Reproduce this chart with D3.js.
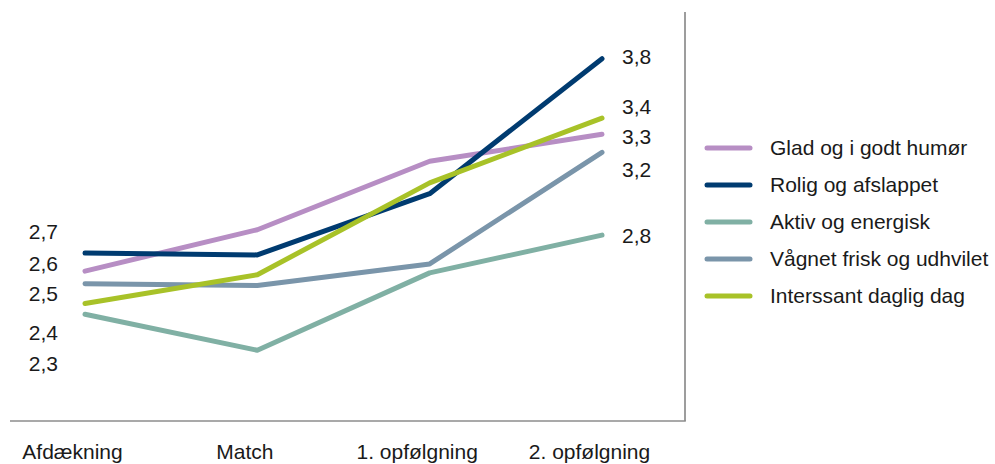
<!DOCTYPE html>
<html>
<head>
<meta charset="utf-8">
<script src="https://cdn.jsdelivr.net/npm/d3@7"></script>
<style>
  html, body { margin: 0; padding: 0; background: #fff; }
  svg { display: block; font-family: "Liberation Sans", Arial, sans-serif; }
</style>
</head>
<body>
<svg id="chart" width="995" height="464"></svg>
<script>
// Measurement rounds
const categories = ["Afdækning", "Match", "1. opfølgning", "2. opfølgning"];

// Series (average scores per round)
const seriesNames = [
  "Glad og i godt humør",
  "Rolig og afslappet",
  "Aktiv og energisk",
  "Vågnet frisk og udhvilet",
  "Interssant daglig dag"
];
const gladValues      = [2.58, 2.81, 3.19, 3.34];
const roligValues     = [2.68, 2.67, 3.01, 3.76];
const aktivValues     = [2.34, 2.14, 2.57, 2.78];
const vaagnetValues   = [2.51, 2.50, 2.62, 3.24];
const interesValues   = [2.40, 2.56, 3.07, 3.43];

const seriesColors = ["#b78ec4", "#003b70", "#80b0a4", "#7a95aa", "#a8c228"];

const series = seriesNames.map((name, i) => ({
  name,
  color: seriesColors[i],
  values: [gladValues, roligValues, aktivValues, vaagnetValues, interesValues][i]
}));

// Vertical nudges (px) that keep the end labels from colliding
const leftLabelNudge  = [-7, -21, 49, 10, 29];
const rightLabelNudge = [2, -2, 1, 17, -11];

const svg = d3.select("#chart");
const fmt = v => d3.format(".1f")(v).replace(".", ",");

const x = d3.scalePoint().domain(categories).range([85, 602]);
const y = d3.scaleLinear().domain([2, 4]).range([375.5, 15.5]);

// Frame: right and bottom rules
svg.append("line")
  .attr("x1", 685).attr("x2", 685).attr("y1", 12).attr("y2", 421)
  .attr("stroke", "#8c8c8c").attr("stroke-width", 1.7);
svg.append("line")
  .attr("x1", 10).attr("x2", 685.8).attr("y1", 421).attr("y2", 421)
  .attr("stroke", "#8c8c8c").attr("stroke-width", 1.7);

// Category labels
const xAxis = d3.axisBottom(x).tickSize(0).tickPadding(0);
const xg = svg.append("g").attr("transform", "translate(-13,452)").call(xAxis);
xg.select(".domain").remove();
xg.selectAll("text")
  .attr("y", 0).attr("dy", "0.35em")
  .attr("font-size", 21).attr("font-family", "Liberation Sans, Arial, sans-serif")
  .attr("fill", "#1a1a1a");

// Lines
const line = d3.line()
  .x((d, i) => x(categories[i]))
  .y(d => y(d));

svg.append("g").selectAll("path")
  .data(series)
  .join("path")
  .attr("d", d => line(d.values))
  .attr("fill", "none")
  .attr("stroke", d => d.color)
  .attr("stroke-width", 5)
  .attr("stroke-linecap", "round")
  .attr("stroke-linejoin", "round");

// End labels
const first = categories[0], last = categories[categories.length - 1];
svg.append("g").selectAll("text")
  .data(series)
  .join("text")
  .attr("x", 58)
  .attr("y", (d, i) => y(d.values[0]) + leftLabelNudge[i])
  .attr("dy", "0.35em")
  .attr("text-anchor", "end")
  .attr("font-size", 21)
  .attr("fill", "#1a1a1a")
  .text(d => fmt(d.values[0]));

svg.append("g").selectAll("text")
  .data(series)
  .join("text")
  .attr("x", 622)
  .attr("y", (d, i) => y(d.values[d.values.length - 1]) + rightLabelNudge[i])
  .attr("dy", "0.35em")
  .attr("font-size", 21)
  .attr("fill", "#1a1a1a")
  .text(d => fmt(d.values[d.values.length - 1]));

// Legend
const legend = svg.append("g").attr("transform", "translate(705,148)");
const rows = legend.selectAll("g")
  .data(series)
  .join("g")
  .attr("transform", (d, i) => `translate(0,${i * 37})`);
rows.append("line")
  .attr("x1", 2).attr("x2", 45).attr("y1", 0).attr("y2", 0)
  .attr("stroke", d => d.color)
  .attr("stroke-width", 5)
  .attr("stroke-linecap", "round");
rows.append("text")
  .attr("x", 65).attr("y", 0).attr("dy", "0.35em")
  .attr("font-size", 21)
  .attr("fill", "#1a1a1a")
  .text(d => d.name);
</script>
</body>
</html>
